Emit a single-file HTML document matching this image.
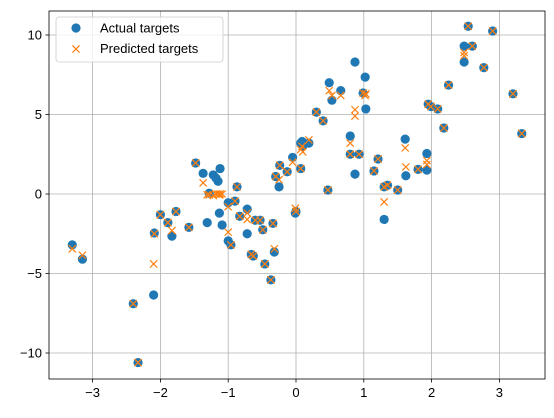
<!DOCTYPE html>
<html><head><meta charset="utf-8"><style>
body{margin:0;background:#fff;font-family:"Liberation Sans","DejaVu Sans",sans-serif}
</style></head><body>
<svg id="c" width="554" height="413" viewBox="0 0 554 413" xmlns="http://www.w3.org/2000/svg"></svg>
<script>
const xs=[-3.3,-3.15,-2.4,-2.33,-2.1,-2.09,-2.0,-1.89,-1.83,-1.77,-1.58,-1.48,-1.37,-1.31,-1.22,-1.12,-1.15,-1.13,-1.09,-1.0,-0.9,-0.72,-0.83,-1.0,-0.96,-0.72,-0.6,-0.53,-0.49,-0.34,-0.66,-0.63,-0.46,-0.37,-0.32,-0.87,-0.3,-0.25,-0.24,-0.13,-0.05,0.0,-0.01,0.07,0.09,0.1,0.19,0.07,0.3,0.4,0.47,0.49,0.53,0.66,0.87,0.8,0.8,0.93,0.87,1.02,0.99,1.03,1.21,1.15,1.3,1.35,1.3,1.5,1.61,1.62,1.8,1.93,1.93,1.95,1.99,2.09,2.18,2.25,2.48,2.48,2.54,2.6,2.77,2.9,3.2,3.33,-1.28,-1.18];
const actual=[-3.2,-4.1,-6.9,-10.6,-6.35,-2.45,-1.3,-1.8,-2.65,-1.1,-2.1,1.95,1.3,-1.8,1.2,1.6,0.8,-1.2,-1.95,-0.55,-0.45,-0.95,-1.4,-2.95,-3.2,-2.5,-1.65,-1.65,-2.25,-1.85,-3.8,-3.9,-4.4,-5.4,-3.65,0.45,1.1,0.45,1.8,1.4,2.3,-1.1,-1.2,3.2,3.3,3.0,3.2,1.6,5.15,4.6,0.25,7.0,5.9,6.5,8.3,3.65,2.5,2.5,1.25,7.35,6.35,5.35,2.2,1.45,0.45,0.55,-1.6,0.25,3.45,1.15,1.55,2.55,1.5,5.65,5.5,5.35,4.15,6.85,9.3,8.3,10.55,9.3,7.95,10.25,6.3,3.8,0.05,1.0];
const predicted=[-3.45,-3.85,-6.9,-10.6,-4.4,-2.5,-1.3,-1.8,-2.3,-1.1,-2.1,1.95,0.7,-0.05,-0.1,0.0,0.0,-0.05,0.0,-0.8,-0.45,-1.2,-1.4,-2.4,-3.2,-1.6,-1.65,-1.65,-2.25,-1.85,-3.8,-3.9,-4.4,-5.4,-3.45,0.45,1.1,0.9,1.8,1.4,2.0,-1.1,-0.9,2.8,3.0,2.65,3.4,1.6,5.15,4.6,0.25,6.5,6.2,6.2,4.9,3.2,2.5,2.5,5.3,6.2,6.35,6.3,2.2,1.45,0.45,0.55,-0.5,0.25,2.9,1.7,1.55,2.1,1.85,5.65,5.5,5.35,4.15,6.85,8.9,8.7,10.55,9.3,7.95,10.25,6.3,3.8,-0.05,0.0];
const xTicks=[-3,-2,-1,0,1,2,3];
const yTicks=[-10,-5,0,5,10];
const NS="http://www.w3.org/2000/svg",svg=document.getElementById('c');
const L=49,R=545,T=11,B=379;
const sx=v=>296+(v)*67.8, sy=v=>194-v*15.9;
function mk(t,a){const e=document.createElementNS(NS,t);for(const k in a)e.setAttribute(k,a[k]);svg.appendChild(e);return e;}
xTicks.forEach(t=>{const x=sx(t);
 const g=mk('line',{x1:x,x2:x,y1:T,y2:B,stroke:'#b0b0b0','stroke-width':0.8});
 
 
 const k=mk('line',{x1:x,x2:x,y1:B,y2:B+3.5,stroke:'#000','stroke-width':0.8});
 
 
 const tx=mk('text',{x:x,y:B+18,'text-anchor':'middle','font-size':'13',fill:'#000'});tx.textContent=(t<0?'\u2212'+(-t):t);
 
 });
yTicks.forEach(t=>{const y=sy(t);
 const g=mk('line',{x1:L,x2:R,y1:y,y2:y,stroke:'#b0b0b0','stroke-width':0.8});
 
 
 const k=mk('line',{x1:L-3.5,x2:L,y1:y,y2:y,stroke:'#000','stroke-width':0.8});
 
 
 const tx=mk('text',{x:L-7,y:y+4.6,'text-anchor':'end','font-size':'13',fill:'#000'});tx.textContent=(t<0?'\u2212'+(-t):t);
 
 });
xs.forEach((x,i)=>{const c=mk('circle',{cx:sx(x),cy:sy(actual[i]),r:4.6,fill:'#1f77b4'});
 
 });
xs.forEach((x,i)=>{const cx=sx(x),cy=sy(predicted[i]),d=3.6;
 const p=mk('path',{d:`M${cx-d},${cy-d}L${cx+d},${cy+d}M${cx-d},${cy+d}L${cx+d},${cy-d}`,stroke:'#ff7f0e','stroke-width':1.2,fill:'none'});
 
 });
const f=mk('rect',{x:L,y:T,width:R-L,height:B-T,fill:'none',stroke:'#000','stroke-width':0.8});


const lg=mk('rect',{x:56,y:17,width:167,height:45,rx:3,fill:'#fff','fill-opacity':0.8,stroke:'#ccc','stroke-width':0.8});


const lc=mk('circle',{cx:76,cy:28,r:4.6,fill:'#1f77b4'});


const lx=mk('path',{d:'M72.4,45.4L79.6,52.6M72.4,52.6L79.6,45.4',stroke:'#ff7f0e','stroke-width':1.2});


const t1=mk('text',{x:100,y:32.5,'font-size':'13',fill:'#000'});t1.textContent='Actual targets';


const t2=mk('text',{x:100,y:53,'font-size':'13',fill:'#000'});t2.textContent='Predicted targets';


</script>
</body></html>
